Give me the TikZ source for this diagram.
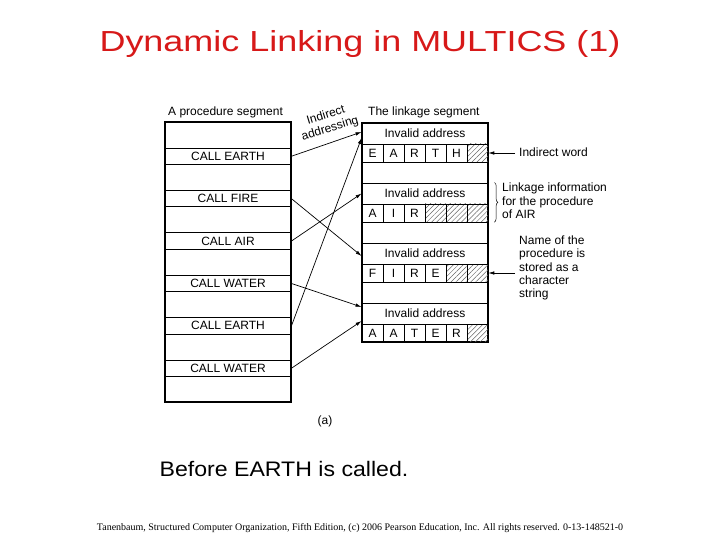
\documentclass[tikz,border=0pt]{standalone}
\usepackage{fontspec}
\setmainfont{Liberation Sans}
\newfontfamily\footfont{Liberation Serif}
\usetikzlibrary{arrows.meta,patterns.meta,decorations.pathreplacing,positioning}
\definecolor{titlered}{RGB}{215,25,25}
\tikzset{
  lbl/.style={font=\fontsize{12}{13.5}\selectfont, inner sep=0pt},
  callrow/.style={draw, line width=0.9pt, minimum width=126pt, minimum height=16.5pt, inner sep=0pt, font=\fontsize{12}{14}\selectfont},
  invrow/.style={draw, line width=0.9pt, minimum width=126pt, minimum height=21pt, inner sep=0pt, font=\fontsize{12}{14}\selectfont},
  cell/.style={draw, line width=0.6pt, minimum width=21pt, minimum height=18pt, inner sep=0pt, font=\fontsize{12}{14}\selectfont},
  hatchcell/.style={cell, pattern={Lines[angle=45,distance=3.5pt,line width=0.5pt]}, pattern color=black!60},
  link/.style={-{Latex[length=6pt,width=3.5pt]}, line width=0.7pt}
}
\begin{document}
\begin{tikzpicture}[x=1pt, y=-1pt]
    \useasboundingbox (0,0) rectangle (720,540);

    % title
    \node[font=\fontsize{29}{30}\selectfont, text=titlered, anchor=base] (title) at (360,52) {\scalebox{1.24}[1]{Dynamic Linking in MULTICS (1)}};

    % procedure segment
    \node[lbl, anchor=base west] (proclbl) at (168,116) {A procedure segment};
    \node[draw, line width=1.2pt, minimum width=126pt, minimum height=280pt] (proc) at (228,262) {};
    \foreach \txt [count=\k] in {CALL EARTH, CALL FIRE, CALL AIR, CALL WATER, CALL EARTH, CALL WATER}
        \node[callrow] (call\k) at (228,{156.25+42.4*(\k-1)}) {\txt};

    % linkage segment
    \node[lbl, anchor=base west] (linklbl) at (368,116) {The linkage segment};
    \node[draw, line width=1.2pt, minimum width=126pt, minimum height=219pt] (link) at (425,232.5) {};
    \foreach \k in {1,...,4}
        \node[invrow] (inv\k) at (425,{133.5+60*(\k-1)}) {Invalid address};

    % name cells
    \foreach \k/\letters/\first in {1/{E,A,R,T,H}/6, 2/{A,I,R}/4, 3/{F,I,R,E}/5, 4/{A,A,T,E,R}/6} {
        \foreach \ch [count=\c] in \letters
            \node[cell] (c\k-\c) at ({351.5+21*\c},{153+60*(\k-1)}) {\ch};
        \foreach \c in {\first,...,6}
            \node[hatchcell] (c\k-\c) at ({351.5+21*\c},{153+60*(\k-1)}) {};
    }

    % arrows
    \draw[link] (call1.east) -- ([yshift=1.5pt]inv1.west);
    \draw[link] (call2.east) -- ([yshift=-2.5pt]inv3.west);
    \draw[link] (call3.east) -- (inv2.west);
    \draw[link] (call4.east) -- ([yshift=6.5pt]inv4.west);
    \draw[link] (call5.east) -- ([yshift=-4.5pt]inv1.west);
    \draw[link] (call6.east) -- ([yshift=-7.5pt]inv4.west);

    % lecter
    \node[lbl, rotate=17, align=center, font=\fontsize{12}{14}\selectfont] (indaddr) at (328,122) {Indirect\\addressing};
    \node[lbl, anchor=west] (iword) at (519,152) {Indirect word};
    \draw[link] ([xshift=-4pt]iword.west |- c1-6.east) -- (c1-6.east);
    \draw[decorate, decoration={brace, amplitude=3.5pt}, line width=0.5pt] ([xshift=6pt]inv2.north east) -- ([xshift=6pt]c2-6.south east);
    \node[lbl, anchor=west, align=left] (linkinfo) at (502,201) {Linkage information\\for the procedure\\of AIR};
    \node[lbl, anchor=west, align=left, font=\fontsize{12}{13.3}\selectfont] (nameinfo) at (519,268) {Name of the\\procedure is\\stored as a\\character\\string};
    \draw[link] ([xshift=-4pt]nameinfo.west |- c3-6.east) -- (c3-6.east);
    \node[lbl] (cap) at (325,421) {(a)};

    \node[font=\fontsize{21}{24}\selectfont, anchor=base] (before) at (284,476) {\scalebox{1.1}[1]{Before EARTH is called.}};
    \node[font={\footfont\fontsize{10}{11}\selectfont}, anchor=base] (credit) at (360,530) {Tanenbaum, Structured Computer Organization, Fifth Edition, (c) 2006 Pearson Education, Inc. All rights reserved. 0-13-148521-0};
\end{tikzpicture}
\end{document}
